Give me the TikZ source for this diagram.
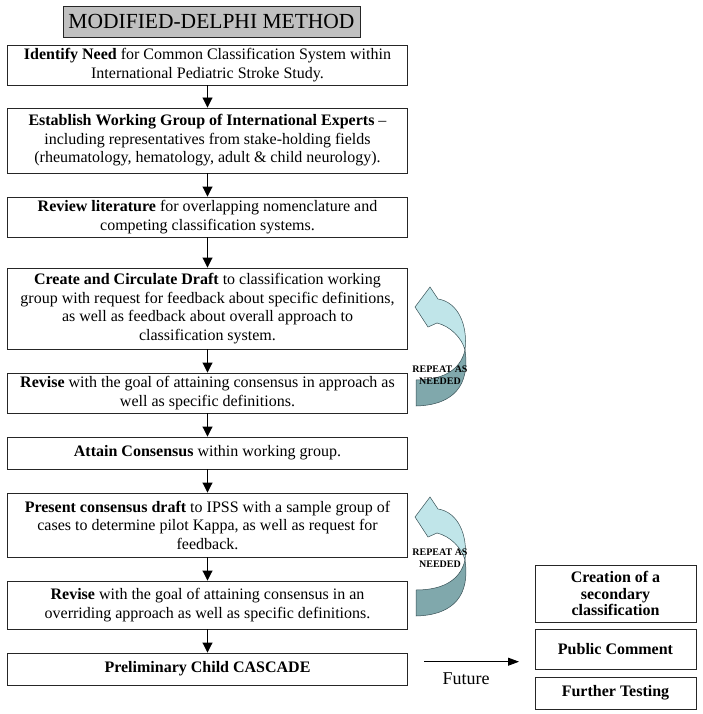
\documentclass[tikz,border=0pt]{standalone}
\usepackage{fontspec}
\setmainfont{Liberation Serif}
\usetikzlibrary{arrows.meta}

\definecolor{loopfront}{RGB}{192,229,233}
\definecolor{loopback}{RGB}{128,168,172}
\definecolor{loopline}{RGB}{55,80,85}
\definecolor{titlegray}{RGB}{192,192,192}

\begin{document}
\begin{tikzpicture}[x=1pt, y=-1pt,
	stage/.style={draw=black!85, line width=0.9pt, minimum width=400pt, inner sep=0pt, align=center,
		font=\fontsize{16}{18.5}\selectfont},
	side/.style={stage, minimum width=161pt, font=\bfseries\fontsize{16}{16.7}\selectfont},
	flow/.style={-{Triangle[length=10pt,width=10pt]}, line width=0.9pt}]
	\useasboundingbox (0,0) rectangle (702,714);

	\node[draw=black!85, fill=titlegray, line width=0.9pt, minimum width=297pt, minimum height=31pt,
		inner sep=0pt, font=\fontsize{21.5}{24}\selectfont]  (0) at (211.5,21.5) {MODIFIED-DELPHI METHOD};

	\node[stage, minimum height=40pt]  (1) at (207.5,65)    {\textbf{Identify Need} for Common Classification System within\\International Pediatric Stroke Study.};
	\node[stage, minimum height=65pt]  (2) at (207.5,140.5) {\textbf{Establish Working Group of International Experts} --\\including representatives from stake-holding fields\\(rheumatology, hematology, adult \& child neurology).};
	\node[stage, minimum height=40pt]  (3) at (207.5,217)   {\textbf{Review literature} for overlapping nomenclature and\\competing classification systems.};
	\node[stage, minimum height=81pt]  (4) at (207.5,308.5) {\textbf{Create and Circulate Draft} to classification working\\group with request for feedback about specific definitions,\\as well as feedback about overall approach to\\classification system.};
	\node[stage, minimum height=40pt]  (5) at (207.5,393)   {\textbf{Revise} with the goal of attaining consensus in approach as\\well as specific definitions.};
	\node[stage, minimum height=32pt]  (6) at (207.5,453)   {\textbf{Attain Consensus} within working group.};
	\node[stage, minimum height=64pt]  (7) at (207.5,525)   {\textbf{Present consensus draft} to IPSS with a sample group of\\cases to determine pilot Kappa, as well as request for\\feedback.};
	\node[stage, minimum height=48pt]  (8) at (207.5,605)   {\textbf{Revise} with the goal of attaining consensus in an\\overriding approach as well as specific definitions.};
	\node[stage, minimum height=32pt]  (9) at (207.5,669)   {\textbf{Preliminary Child CASCADE}};

	\node[side, minimum height=57pt]   (10) at (615.5,593.5) {Creation of a\\secondary\\classification};
	\node[side, minimum height=40pt]   (11) at (615.5,649)   {Public Comment};
	\node[side, minimum height=32pt]   (12) at (615.5,693)   {Further Testing};

	\path [flow] (1) edge (2) (2) edge (3) (3) edge (4) (4) edge (5)
		(5) edge (6) (6) edge (7) (7) edge (8) (8) edge (9);

	% future
	\coordinate (f0) at (424,661.7);
	\coordinate (f1) at (519,661.7);
	\draw [-{Triangle[length=11pt,width=8pt]}, line width=0.9pt] (f0) -- (f1);
	\node[font=\fontsize{18}{20}\selectfont] (fut) at (466,679) {Future};

	% repeat loops
	\foreach \dy in {0,210} {
		\begin{scope}[shift={(0,\dy)}, draw=loopline, line width=0.5pt]
			\filldraw[fill=loopback] (465,350) .. controls (470,384) and (455,405) .. (416,406)
				-- (416,380) .. controls (440,380) and (460,372) .. (465,350) -- cycle;
			\filldraw[fill=loopfront] (430,287) -- (415,307) -- (428,327) -- (437,323)
				.. controls (450,326) and (462,338) .. (465,350)
				.. controls (468,325) and (458,302) .. (438,299) -- cycle;
		\end{scope}
	}
	\node[align=center, inner sep=0pt, font=\bfseries\fontsize{10}{12.5}\selectfont] (r1) at (440,375) {REPEAT AS\\NEEDED};
	\node[align=center, inner sep=0pt, font=\bfseries\fontsize{10}{12.5}\selectfont] (r2) at (440,558) {REPEAT AS\\NEEDED};
\end{tikzpicture}
\end{document}
